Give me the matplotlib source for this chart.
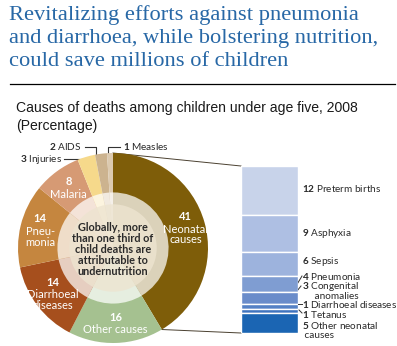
import numpy as np
import matplotlib
matplotlib.use("Agg")
import matplotlib.pyplot as plt
from matplotlib.colors import to_rgb

# ---------------- data ----------------
title_lines = ["Revitalizing efforts against pneumonia",
               "and diarrhoea, while bolstering nutrition,",
               "could save millions of children"]
subtitle = "Causes of deaths among children under age five, 2008\n(Percentage)"
center_text = "Globally, more\nthan one third of\nchild deaths are\nattributable to\nundernutrition"

causes = ["Neonatal\ncauses", "Other causes", "Diarrhoeal\ndiseases", "Pneu-\nmonia",
          "Malaria", "Injuries", "AIDS", "Measles"]
cause_values = [41, 16, 14, 14, 8, 3, 2, 1]
cause_colors = ["#7e5d09", "#a5c190", "#a64f1d", "#c5863f", "#d69a74",
                "#f6d98b", "#ccb38f", "#dccab0"]

neonatal = ["Preterm births", "Asphyxia", "Sepsis", "Pneumonia",
            "Congenital\n     anomalies", "Diarrhoeal diseases", "Tetanus",
            "Other neonatal\n causes"]
neonatal_values = [12, 9, 6, 4, 3, 1, 1, 5]
neonatal_colors = ["#c8d3ea", "#aebfe3", "#9db3dd", "#7f9dd2",
                   "#6a8cca", "#5581c5", "#3f74bf", "#1b65b3"]

# ---------------- figure ----------------
W, H = 397, 346
fig = plt.figure(figsize=(W / 100, H / 100), dpi=100)
plt.rcParams['mathtext.fontset'] = 'custom'
plt.rcParams['mathtext.rm'] = 'Lato'
plt.rcParams['mathtext.bf'] = 'Lato:bold'

ax = fig.add_axes([0, 0, 1, 1])
ax.set_xlim(0, W)
ax.set_ylim(H, 0)
ax.axis("off")

# title
title_color = "#2868a6"
for i, line in enumerate(title_lines):
    ax.text(9, 15 + i * 23, line, fontsize=16.2, family="Liberation Serif",
            color=title_color, va="center", ha="left")
ax.plot([10, 395], [84, 84], color="black", lw=0.9)
ax.text(16, 117, subtitle, fontsize=10.1, family="Liberation Sans",
        color="#1a1a1a", va="center", ha="left", linespacing=1.3)

# ---------------- donut ----------------
cx, cy, R = 113, 248, 95
pax = fig.add_axes([(cx - R) / W, (H - cy - R) / H, 2 * R / W, 2 * R / H])
pax.pie(cause_values, colors=cause_colors, startangle=90, counterclock=False,
        radius=1.0, wedgeprops=dict(linewidth=0))


def tint(c, f):
    r = np.array(to_rgb(c))
    return tuple(r + (1 - r) * f)


pax.pie(cause_values, colors=[tint(c, 0.72) for c in cause_colors], startangle=90,
        counterclock=False, radius=0.585, wedgeprops=dict(linewidth=0))
pax.add_patch(plt.Circle((0, 0), 0.46, color="#ede4d0", alpha=0.8, lw=0))
pax.set_xlim(-1, 1)
pax.set_ylim(-1, 1)
pax.set_aspect("auto")
pax.axis("off")

pax.text(0, -0.02, center_text, fontsize=7.8, family="Lato", weight="bold",
         color="#2a2a2a", ha="center", va="center", linespacing=1.0)

total = sum(cause_values)
cum = np.cumsum([0] + cause_values)
for i, (name, v) in enumerate(zip(causes, cause_values)):
    if v < 5:
        continue
    mid = (cum[i] + v / 2) / total * 360
    ang = np.deg2rad(90 - mid)
    r = 0.79
    x, y = r * np.cos(ang), r * np.sin(ang)
    if "\n" in name:
        pax.text(x, y + 0.12, f"{v}", fontsize=8, family="Lato", weight="bold",
                 color="white", ha="center", va="center")
        pax.text(x, y - 0.07, name, fontsize=8, family="Lato",
                 color="white", ha="center", va="center", linespacing=0.95)
    else:
        pax.text(x, y + 0.06, f"{v}", fontsize=8, family="Lato", weight="bold",
                 color="white", ha="center", va="center")
        pax.text(x, y - 0.07, name, fontsize=8, family="Lato",
                 color="white", ha="center", va="center")

# small-slice labels with leader lines
lab_kw = dict(fontsize=7.2, family="Lato", color="#2a2a2a", va="center")
ax.text(82, 147, rf"$\bf{{{cause_values[6]}}}$ {causes[6]}", ha="right", **lab_kw)
ax.plot([85, 96, 96], [147, 147, 157], color="#333333", lw=0.8)
ax.text(123, 147, rf"$\bf{{{cause_values[7]}}}$ {causes[7]}", ha="left", **lab_kw)
ax.plot([120, 108, 108], [147, 147, 157], color="#333333", lw=0.8)
ax.text(62, 159, rf"$\bf{{{cause_values[5]}}}$ {causes[5]}", ha="right", **lab_kw)
ax.plot([64, 84, 84], [159, 159, 165], color="#333333", lw=0.8)

# ---------------- stacked bar ----------------
bx0, bx1, by0, by1 = 241, 298, 166, 333
bax = fig.add_axes([bx0 / W, (H - by1) / H, (bx1 - bx0) / W, (by1 - by0) / H])
bottom = 0
for v, c in zip(neonatal_values, neonatal_colors):
    bax.bar(0, v, bottom=bottom, width=1.0, color=c, edgecolor="white", linewidth=1.0)
    bottom += v
bax.set_xlim(-0.5, 0.5)
bax.set_ylim(sum(neonatal_values), 0)
bax.axis("off")

# bar labels
label_y = [188, 234, 262, 277, 290.5, 304, 314, 330]
for name, v, y in zip(neonatal, neonatal_values, label_y):
    ax.text(302, y, rf"$\bf{{{v}}}$ {name}", fontsize=7.2, family="Lato",
            color="#2a2a2a", ha="left", va="center", linespacing=0.9)
ax.plot([296, 302], [286, 276], color="#333333", lw=0.7)
ax.plot([293, 301], [296, 286], color="#333333", lw=0.7)
ax.plot([293, 302], [304, 304], color="#333333", lw=0.7)
ax.plot([299, 302], [310, 313], color="#333333", lw=0.7)

# connector lines from neonatal slice to bar
end_ang = np.deg2rad(90 - cause_values[0] / total * 360)
ax.plot([cx, bx0], [cy - R, by0], color="#4a4030", lw=0.7)
ax.plot([cx + R * np.cos(end_ang), bx0], [cy - R * np.sin(end_ang), by1],
        color="#4a4030", lw=0.7)

fig.savefig("out.png", dpi=100)
